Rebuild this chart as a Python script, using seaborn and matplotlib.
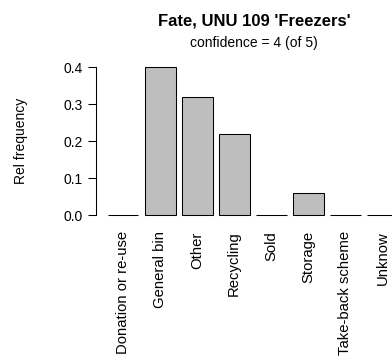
import pandas as pd
import matplotlib
matplotlib.use("Agg")
import matplotlib.pyplot as plt
import seaborn as sns

# data
fates = ["Donation or re-use", "General bin", "Other", "Recycling",
         "Sold", "Storage", "Take-back scheme", "Unknow"]
rel_freq = [0.0, 0.40, 0.32, 0.22, 0.0, 0.06, 0.0, 0.0]
y_ticks = [0.0, 0.1, 0.2, 0.3, 0.4]

df = pd.DataFrame({"fate": fates, "rel": rel_freq})

sns.set_style("white")
plt.rcParams['font.family'] = ['Liberation Sans', 'DejaVu Sans']
plt.rcParams['text.color'] = 'black'
plt.rcParams['xtick.color'] = 'black'
plt.rcParams['ytick.color'] = 'black'

W, H = 392, 364
fig = plt.figure(figsize=(W / 100, H / 100), dpi=100)
ax = fig.add_axes([96 / W, 0.393, 313.5 / W, 0.439])

sns.barplot(data=df, x="fate", y="rel", order=fates, color="#BEBEBE",
            saturation=1, width=0.833, edgecolor="black", linewidth=0.75,
            ax=ax)

ax.set_xlim(-0.73, 7.73)
ax.set_ylim(-0.016, 0.416)

# R-style axes: only a left axis spanning the tick range
for s in ["top", "right", "bottom"]:
    ax.spines[s].set_visible(False)
ax.spines["left"].set_bounds(0, 0.4)
ax.spines["left"].set_linewidth(0.75)
ax.spines["left"].set_color("black")

ax.set_yticks(y_ticks)
ax.set_yticklabels([f"{v:.1f}" for v in y_ticks], fontsize=10)
ax.tick_params(axis="y", length=5.8, width=0.75, pad=3.5, color="black",
               labelcolor="black", left=True)
ax.set_xticks(range(len(fates)))
ax.set_xticklabels(fates, rotation=90, fontsize=10.7, va="top", ha="center")
ax.tick_params(axis="x", length=0, pad=7.5, labelcolor="black")
ax.set_xlabel("")
ax.set_ylabel("")

fig.text(21 / W, 1 - 141 / H, "Rel frequency", rotation=90,
         ha="center", va="center", fontsize=10)
fig.text(254 / W, 1 - 25 / H, "Fate, UNU 109 'Freezers'", ha="center",
         va="baseline", fontsize=12, fontweight="bold")
fig.text(254 / W, 1 - 47 / H, "confidence = 4 (of 5)", ha="center",
         va="baseline", fontsize=10)

fig.savefig("out.png", dpi=100, facecolor="white")
